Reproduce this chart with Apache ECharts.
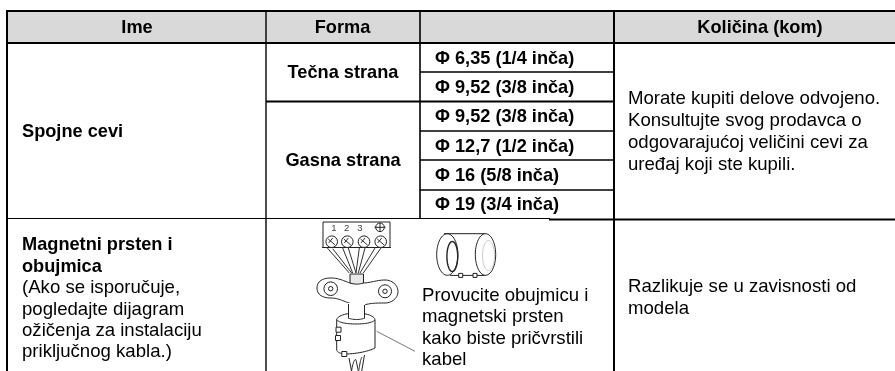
<!DOCTYPE html>
<html><head><meta charset="utf-8">
<style>html,body{margin:0;padding:0;background:#fff}#c{width:895px;height:371px}</style>
<script src="https://cdn.jsdelivr.net/npm/echarts@6/dist/echarts.min.js"></script>
</head><body><div id="c"></div>
<script>
var headers = ['Ime', 'Forma', '', 'Količina (kom)'];
var pipeName = 'Spojne cevi';
var formNames = ['Tečna strana', 'Gasna strana'];
var pipeSizes = ['Φ 6,35 (1/4 inča)', 'Φ 9,52 (3/8 inča)', 'Φ 9,52 (3/8 inča)', 'Φ 12,7 (1/2 inča)', 'Φ 16 (5/8 inča)', 'Φ 19 (3/4 inča)'];
var pipeNote = ['Morate kupiti delove odvojeno.', 'Konsultujte svog prodavca o', 'odgovarajućoj veličini cevi za', 'uređaj koji ste kupili.'];
var ringTitle = ['Magnetni prsten i', 'obujmica'];
var ringNote = ['(Ako se isporučuje,', 'pogledajte dijagram', 'ožičenja za instalaciju', 'priključnog kabla.)'];
var ringCaption = ['Provucite obujmicu i', 'magnetski prsten', 'kako biste pričvrstili', 'kabel'];
var ringQty = ['Razlikuje se u zavisnosti od', 'modela'];
var terminalLabels = ['1', '2', '3'];

var F = '"Liberation Sans", Arial, sans-serif';
var FB = 18.2, FR = 18.6;
var g = [];
function line(x1,y1,x2,y2,w,c){g.push({type:'line',z:2,shape:{x1:x1,y1:y1,x2:x2,y2:y2},style:{stroke:c||'#000',lineWidth:w||2}});}
function text(s,x,y,o){o=o||{};g.push({type:'text',x:x,y:y,z:5,style:{text:s,fill:o.c||'#000',font:(o.b?'bold ':'')+(o.s||(o.b?FB:FR))+'px '+F,textAlign:o.a||'left',textVerticalAlign:'middle'}});}
function path(d,o){
  o=o||{};
  var t=d.match(/[MLHVCZ]|-?[\d.]+/g),i=0,x=0,y=0,subs=[],cur=null,cmd;
  function n(){return parseFloat(t[i++]);}
  while(i<t.length){
    if(/[MLHVCZ]/.test(t[i])) cmd=t[i++];
    if(cmd==='M'){x=n();y=n();cur={p:[[x,y]],closed:false};subs.push(cur);cmd='L';}
    else if(cmd==='L'){x=n();y=n();cur.p.push([x,y]);}
    else if(cmd==='H'){x=n();cur.p.push([x,y]);}
    else if(cmd==='V'){y=n();cur.p.push([x,y]);}
    else if(cmd==='C'){var a=n(),b=n(),c=n(),e=n(),f=n(),h=n(),x0=x,y0=y;
      for(var k=1;k<=14;k++){var u=k/14,v=1-u;cur.p.push([v*v*v*x0+3*v*v*u*a+3*v*u*u*c+u*u*u*f,v*v*v*y0+3*v*v*u*b+3*v*u*u*e+u*u*u*h]);}
      x=f;y=h;}
    else if(cmd==='Z'){cur.closed=true;}
  }
  subs.forEach(function(s){
    g.push({type:s.closed||o.f?'polygon':'polyline',z:o.z||3,shape:{points:s.p},style:{fill:o.f||null,stroke:o.c||'#222',lineWidth:o.w||1}});
  });
}
function circ(x,y,r,o){o=o||{};g.push({type:'circle',z:o.z||3,shape:{cx:x,cy:y,r:r},style:{fill:o.f||'#fff',stroke:o.c||'#222',lineWidth:o.w||1}});}
function rect(x,y,w,h,o){o=o||{};g.push({type:'rect',z:o.z||3,shape:{x:x,y:y,width:w,height:h},style:{fill:o.f||'#fff',stroke:o.c===undefined?'#222':o.c,lineWidth:o.w||1}});}
function ell(cx,cy,rx,ry,o){var K=0.5523;path('M'+(cx-rx)+' '+cy+'C'+(cx-rx)+' '+(cy-K*ry)+' '+(cx-K*rx)+' '+(cy-ry)+' '+cx+' '+(cy-ry)+'C'+(cx+K*rx)+' '+(cy-ry)+' '+(cx+rx)+' '+(cy-K*ry)+' '+(cx+rx)+' '+cy+'C'+(cx+rx)+' '+(cy+K*ry)+' '+(cx+K*rx)+' '+(cy+ry)+' '+cx+' '+(cy+ry)+'C'+(cx-K*rx)+' '+(cy+ry)+' '+(cx-rx)+' '+(cy+K*ry)+' '+(cx-rx)+' '+cy+'Z',o);}

var L=7,C1=266,C2=420,C3=614,R=895,T=11,H=43;
var rowY=[43,72,101.5,131,160,190,218.5];
rect(L,T,R-L,H-T,{f:'#d9d9d9',c:null,z:1});

// header
[137,342.5,517,760].forEach(function(x,i){ if(headers[i]) text(headers[i],x,28,{b:1,a:'center'}); });

// grid
line(L-1,T,R,T,2); line(L-1,H,R,H,2);
line(L,T,L,371,2); line(C1,T,C1,371,1.4); line(C2,T,C2,218.5,1.6); line(C3,T,C3,371,2);
line(C2,72,C3,72,1.5); line(C1,101.5,C3,101.5,2); line(C2,131,C3,131,1.5); line(C2,160,C3,160,1.5); line(C2,190,C3,190,1.5);
line(L,218.5,550,218.5,1.2); line(549,219.5,R,219.5,2);

// body text
text(pipeName,22,132,{b:1});
text(formNames[0],343,73,{b:1,a:'center'});
text(formNames[1],343,161,{b:1,a:'center'});
pipeSizes.forEach(function(s,i){text(s,435,(rowY[i]+rowY[i+1])/2+1,{b:1});});
pipeNote.forEach(function(s,i){text(s,628,99+i*22,{});});
ringTitle.forEach(function(s,i){text(s,22,245+i*22,{b:1});});
ringNote.forEach(function(s,i){text(s,22,288+i*21.4,{});});
ringCaption.forEach(function(s,i){text(s,422,296+i*21.3,{});});
ringQty.forEach(function(s,i){text(s,628,287+i*21.5,{});});

// terminal block
path('M323 222H390V247.5',{});path('M323 222V247.5',{});path('M322 247.5H391',{});
terminalLabels.forEach(function(s,i){text(s,[334,346.7,360][i],228,{s:9.5,a:'center',c:'#444'});});
circ(380,227.3,4.3,{z:1});line(374.5,227.3,385.5,227.3,1,'#222');line(380,223,380,232,1,'#222');
var sx=[331.7,347.3,364,380.7];
[[326.7,247.3,349.3,273],[332.7,248.7,351.7,273],[342.7,248,352.7,273],[348.3,248,356,273],[359.3,248,356,273],[365,248,358.3,273],[375,248,360,273],[381.7,247,363.3,273]].forEach(function(a){line(a[0],a[1],a[2],a[3],1,'#333');});
sx.forEach(function(x){circ(x,241.7,5.8,{z:4});g.push({type:'line',z:4,shape:{x1:x-3.5,y1:239,x2:x+3.5,y2:245},style:{stroke:'#333'}});g.push({type:'line',z:4,shape:{x1:x-3,y1:243,x2:x+1,y2:238},style:{stroke:'#333'}});});
// clamp plate
path('M317 288C317 281 323 278 331 278C339 278 344 281 350 283L363 283C370 283 377 280 385 280C392 280 398 285 398 291.5C398 298 392 303 385 303C377 303 371 303 364 305C358 306 355 305 349 303C343 301 338 298 331 298C323 298 317 295 317 288Z',{f:'#fff',z:3});
path('M350 274V283C355 284.5 359 284.5 363.5 283V274',{f:'#e8e8e8',z:3});
circ(330.7,288.7,6.8,{z:4});circ(330.7,288.7,2.2,{z:4});circ(385,291.3,6.5,{z:4});circ(385,291.3,2.2,{z:4});
// ferrite
path('M336.7 320C336.7 316 346 313 356 313C366 313 375 316 375 320V348C370 351 356 354 345 354C341 354 336.7 352 336.7 350Z',{f:'#fff',z:2});
path('M336.7 320C340 323 348 324 356 324C364 324 372 323 375 320',{z:3});
rect(348,303,17,15,{f:'#fff',c:null,z:3});
path('M348.5 304V318.5',{z:3});path('M364.5 305V318.5',{z:3});
path('M348.5 318C352 320 361 320 364.5 318',{z:3});
rect(336,327.2,5,5,{z:4});rect(335.5,335.5,5,5,{z:4});rect(341.8,351.5,5,5,{z:4});
path('M349 358L351.5 371',{});path('M364.5 355L361.7 371',{});path('M351.5 371C353 362 355 358 356 360C357 364 358 371 358.5 371C359.5 368 360 360 362 357',{});
line(376.7,331.3,415,351.3,0.8,'#555');
// ring
path('M444 233.7H486',{});path('M450 275.4H486',{});
ell(447.3,254.5,10.6,20.8,{});
ell(452.3,256.5,5.4,15,{w:1.4});
ell(485.5,254.5,10.2,20.8,{f:'#fff',z:3});
ell(488.5,255.5,6,15,{c:'#bbb',w:0.8,z:4});
rect(458.7,273.4,4,4,{z:4});rect(473,273.4,4,4,{z:4});

var chart=echarts.init(document.getElementById('c'),null,{renderer:'canvas'});
chart.setOption({animation:false,backgroundColor:'#fff',graphic:{elements:g}});
</script></body></html>
